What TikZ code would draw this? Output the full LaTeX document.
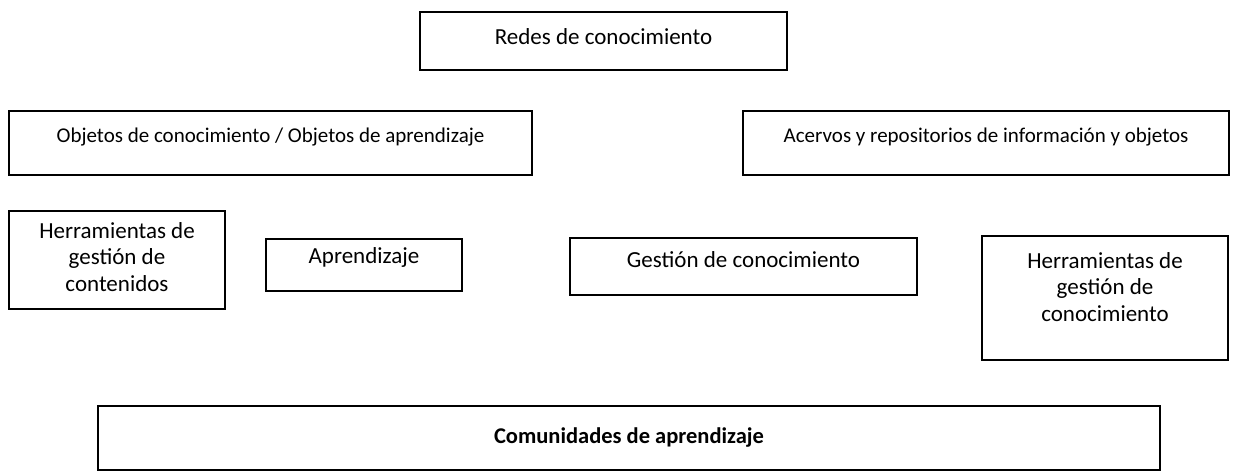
\documentclass[tikz,border=0pt]{standalone}
\usepackage{fontspec}
\setmainfont{Carlito}
\tikzset{
    box/.style={draw, line width=1.5pt, rectangle, align=center, inner sep=0pt},
    big/.style={font=\fontsize{23}{26.5}\selectfont},
    small/.style={font=\fontsize{21}{24}\selectfont},
    lift/.style={text depth=#1},
}
\begin{document}
\begin{tikzpicture}[x=1pt,y=-1pt]
    \useasboundingbox (0,0) rectangle (1233,473);

    % upper rows
    \node[box, big, lift=8pt, minimum width=367, minimum height=58] (redes) at (603.5,41) {Redes de conocimiento};
    \node[box, small, lift=16pt, minimum width=523, minimum height=64] (objetos) at (270.5,143) {Objetos de conocimiento / Objetos de aprendizaje};
    \node[box, small, lift=16pt, minimum width=486, minimum height=64] (acervos) at (986,143) {Acervos y repositorios de informaci\'on y objetos};

    % middle row
    \node[box, big, lift=6pt, minimum width=216, minimum height=98] (herrcont) at (117,260) {Herramientas de\\ gesti\'on de\\ contenidos};
    \node[box, big, lift=18pt, minimum width=196, minimum height=52] (aprend) at (364,265) {Aprendizaje};
    \node[box, big, lift=14pt, minimum width=347, minimum height=57] (gestion) at (743.5,266.5) {Gesti\'on de conocimiento};
    \node[box, big, lift=22pt, minimum width=246, minimum height=124] (herrcon) at (1105,298) {Herramientas de\\ gesti\'on de\\ conocimiento};

    % bottom
    \node[box, font=\fontsize{22.5}{26}\selectfont\bfseries, minimum width=1062, minimum height=64] (comunidades) at (629,438) {Comunidades de aprendizaje};
\end{tikzpicture}
\end{document}
